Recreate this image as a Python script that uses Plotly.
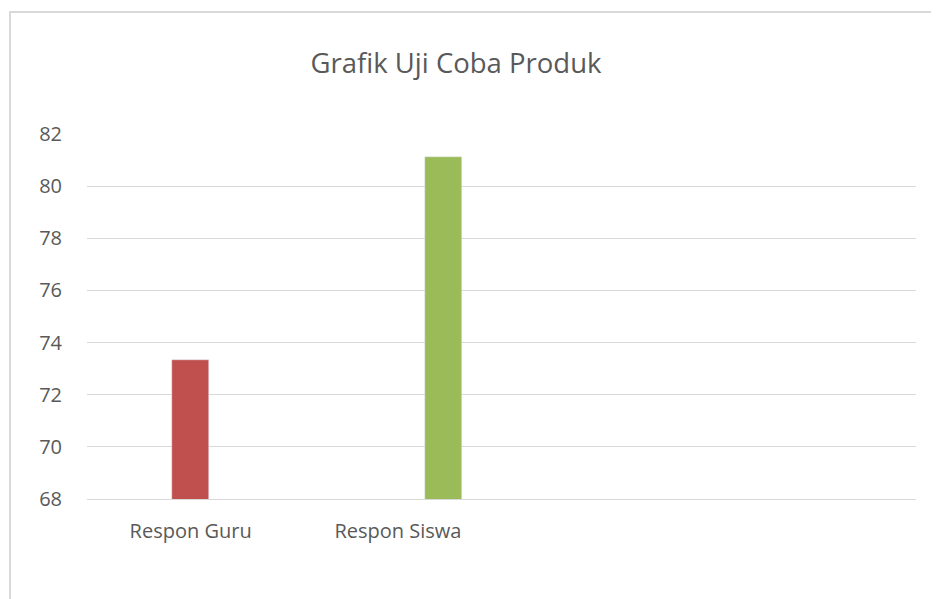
import plotly.graph_objects as go

categories = ["Respon Guru", "Respon Siswa"]
series_guru = [73.33, None]
series_siswa = [None, 81.1]
y_ticks = [68, 70, 72, 74, 76, 78, 80, 82]
title_text = "Grafik Uji Coba Produk"

# page body has an 8px margin, so the figure is sized to fit the window
W, H = 931, 591
L, R, T, B = 79, 23, 126, 100
pw, ph = W - L - R, H - T - B

bar_w = 0.1785
fig = go.Figure()
fig.add_trace(go.Bar(x=categories, y=series_guru, marker_color="#C0504D",
                     width=bar_w, offset=-bar_w / 2, showlegend=False))
fig.add_trace(go.Bar(x=categories, y=series_siswa, marker_color="#9BBB59",
                     width=bar_w, offset=0.2225 - bar_w / 2, showlegend=False))

# chart-area border (light gray), extending past right/bottom edges
fig.add_shape(type="rect", xref="paper", yref="paper",
              x0=(2 - L) / pw, x1=(W + 20 - L) / pw,
              y0=-(B + 20) / ph, y1=(H - B - 4) / ph,
              line=dict(color="#D9D9D9", width=2), fillcolor="rgba(0,0,0,0)", layer="below")

fig.update_layout(
    width=W, height=H,
    margin=dict(l=L, r=R, t=T, b=B),
    paper_bgcolor="white", plot_bgcolor="white",
    font=dict(family="Open Sans", color="#595959", size=20),
    title=dict(text=title_text, x=448 / W, xanchor="center", xref="container",
               y=1 - 55 / H, yanchor="middle", yref="container",
               font=dict(family="Open Sans", size=27.5, color="#595959")),
    bargap=0,
)
fig.update_xaxes(type="category", range=[-0.5, 3.5], showgrid=False,
                 showline=True, linecolor="#D9D9D9", linewidth=1,
                 ticks="", tickfont=dict(size=20, color="#595959"), ticklabelstandoff=14)
fig.update_yaxes(range=[68, 82], tickvals=y_ticks, showgrid=True,
                 gridcolor="#D9D9D9", gridwidth=1, zeroline=False, showline=False,
                 ticks="", ticklabelstandoff=24, tickfont=dict(size=20, color="#595959"))

fig.write_html("out.html")
